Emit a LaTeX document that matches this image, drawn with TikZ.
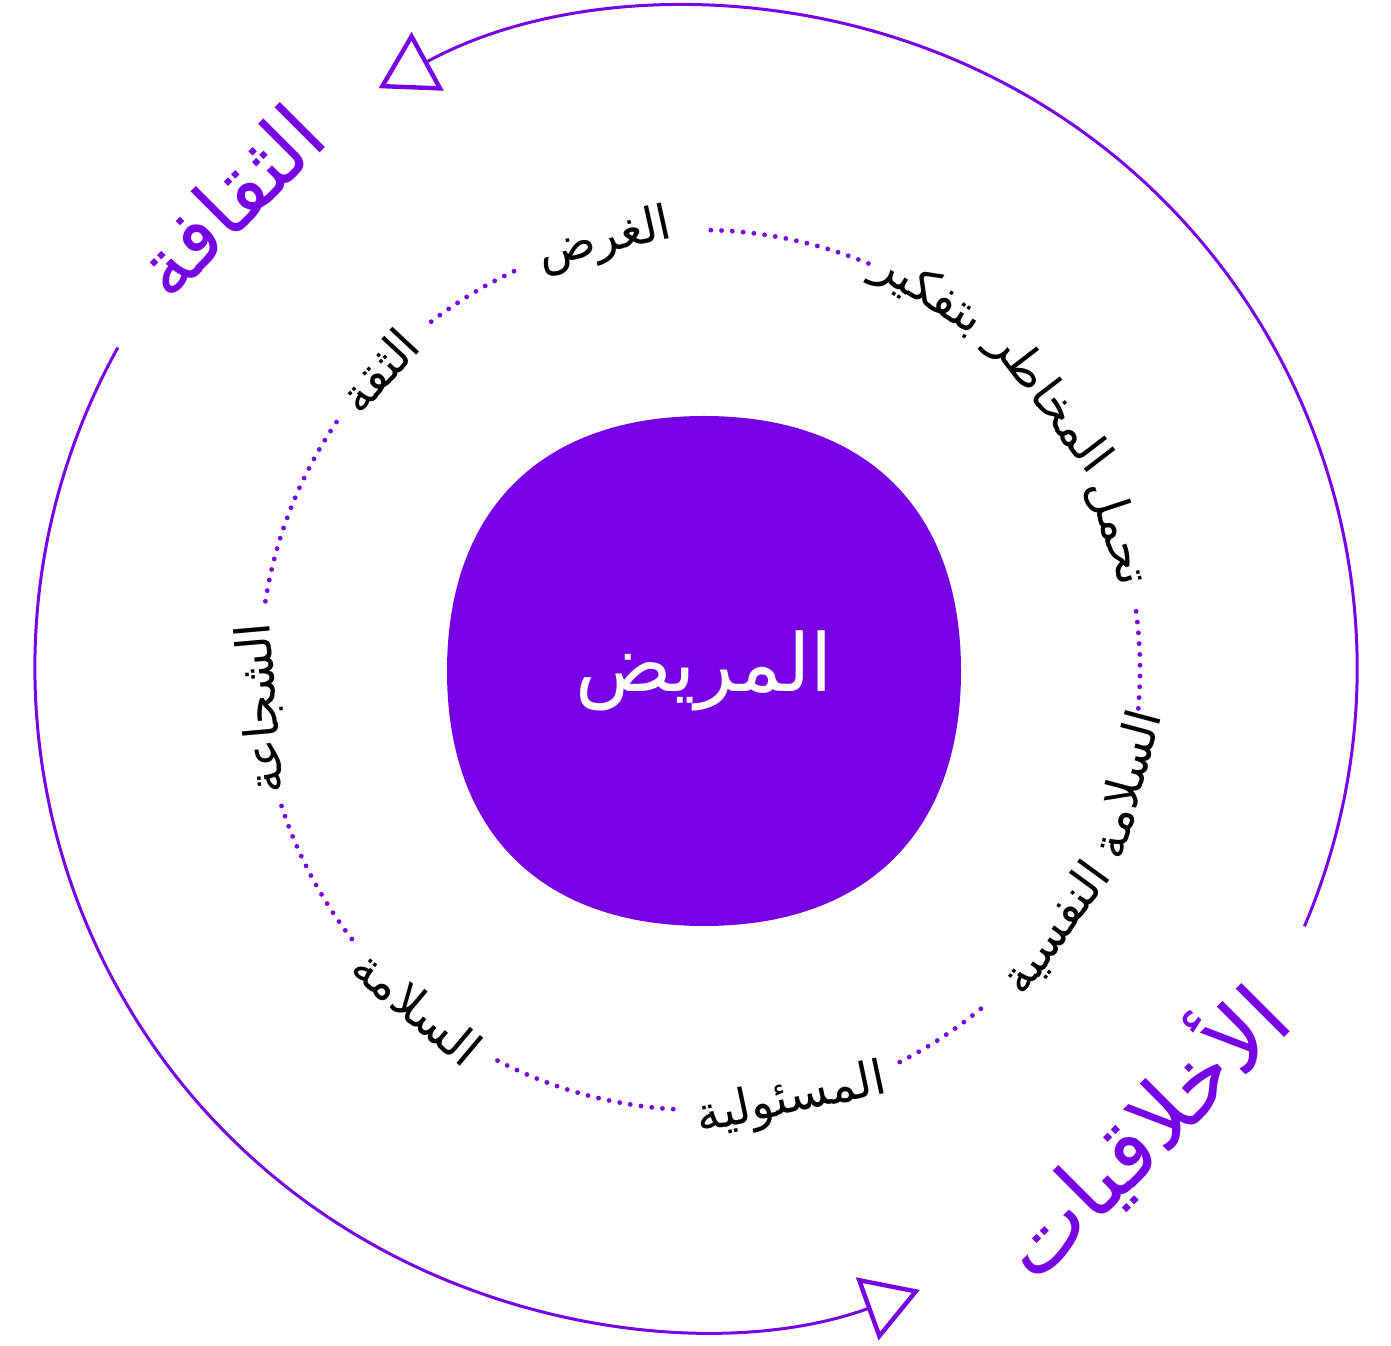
\documentclass[tikz,border=0pt]{standalone}
\usepackage{fontspec}
\newfontfamily\arabicfont[Script=Arabic]{DejaVu Sans}
\TeXXeTstate=1
\usetikzlibrary{arrows.meta,calc}
\definecolor{vio}{RGB}{120,0,230}
\begin{document}
\begin{tikzpicture}[x=0.5pt,y=0.5pt,
  ring/.style={draw=vio, line width=1.5pt},
  dots/.style={draw=vio, line width=2.4pt, line cap=round, dash pattern=on 0pt off 5.4pt},
  lbl/.style={font=\arabicfont\fontsize{24}{29}\selectfont, text=black, inner sep=0pt},
  big/.style={text=vio, inner sep=0pt},
  arrowtip/.style={-{Triangle[open, length=28pt, width=33pt, line width=2.2pt]}}
]
\useasboundingbox (0,0) rectangle (1391,1345);
\coordinate (O) at (696,677);
\coordinate (C) at (700,675);
\coordinate (B) at (704,674);

% outer arcs with arrows
\draw[ring, arrowtip] ($(O)+(-23:661)$) arc[start angle=-23, end angle=118.7, radius=330.5pt];
\draw[ring, arrowtip] ($(O)+(151:661)$) arc[start angle=151, end angle=289.8, radius=330.5pt];

% dotted inner ring segments
\foreach \a/\b in {67.5/90, 115/129, 145.7/172, 198/218, 242.6/267.4, 297/311, 355/369}{
  \draw[dots] ($(C)+(\a:440)$) arc[start angle=\a, end angle=\b, radius=220pt];
}

% centre blob
\fill[vio] ($(B)+(257,0)$)
  .. controls ($(B)+(257,162)$) and ($(B)+(162,255)$) .. ($(B)+(0,255)$)
  .. controls ($(B)+(-162,255)$) and ($(B)+(-257,162)$) .. ($(B)+(-257,0)$)
  .. controls ($(B)+(-257,-162)$) and ($(B)+(-162,-255)$) .. ($(B)+(0,-255)$)
  .. controls ($(B)+(162,-255)$) and ($(B)+(257,-162)$) .. cycle;
\node[font=\arabicfont\fontsize{40}{48}\selectfont, text=white] (patient) at (B) {\beginR المريض\endR};

% ring labels
\node[lbl, rotate=12.5] (purpose) at ($(C)+(102.5:440)$) {\beginR الغرض\endR};
\node[lbl, rotate=47] (trust) at ($(C)+(137:440)$) {\beginR الثقة\endR};
\node[lbl, rotate=95] (courage) at ($(C)+(185:440)$) {\beginR الشجاعة\endR};
\node[lbl, rotate=-40] (safety) at ($(C)+(230:440)$) {\beginR السلامة\endR};
\node[lbl, rotate=12] (resp) at ($(C)+(282:440)$) {\beginR المسئولية\endR};
\node[lbl, rotate=75] (psy1) at ($(C)+(-15:440)$) {\beginR السلامة\endR};
\node[lbl, rotate=54] (psy2) at ($(C)+(-36:440)$) {\beginR النفسية\endR};
\node[lbl, rotate=-71.8] (risk1) at ($(C)+(18.2:440)$) {\beginR تحمل\endR};
\node[lbl, rotate=-52.5] (risk2) at ($(C)+(37.5:440)$) {\beginR المخاطر\endR};
\node[lbl, rotate=-31.3] (risk3) at ($(C)+(58.7:440)$) {\beginR بتفكير\endR};

% big outer labels
\node[big, font=\arabicfont\fontsize{42}{50}\selectfont, rotate=45] (culture) at (228,1145) {\beginR الثقافة\endR};
\node[big, font=\arabicfont\fontsize{45}{54}\selectfont, rotate=45] (ethics) at (1140,215) {\beginR الأخلاقيات\endR};
\end{tikzpicture}
\end{document}
